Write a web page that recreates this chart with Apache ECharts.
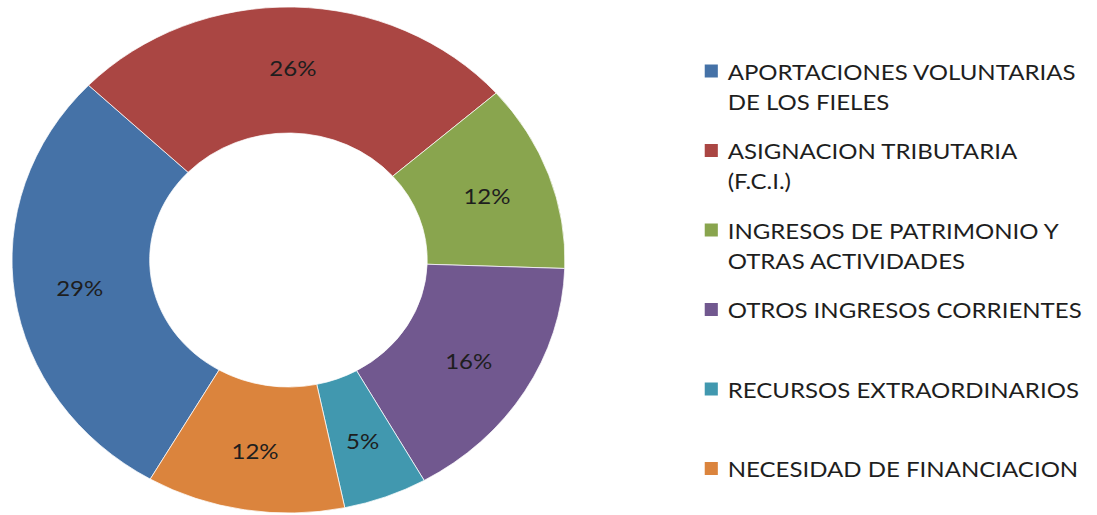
<!DOCTYPE html>
<html>
<head>
<meta charset="utf-8">
<script src="https://cdn.jsdelivr.net/npm/echarts@6/dist/echarts.min.js"></script>
<style>
html, body { margin: 0; padding: 0; background: #ffffff; overflow: hidden; }
#wrap { width: 1097px; height: 515px; overflow: hidden; position: relative; }
#chart { width: 1004px; height: 515px; transform: scaleX(1.0926); transform-origin: 0 0; }
</style>
</head>
<body>
<div id="wrap"><div id="chart"></div></div>
<script>
const categories = [
  'APORTACIONES VOLUNTARIAS\nDE LOS FIELES',
  'ASIGNACION TRIBUTARIA\n(F.C.I.)',
  'INGRESOS DE PATRIMONIO Y\nOTRAS ACTIVIDADES',
  'OTROS INGRESOS CORRIENTES',
  'RECURSOS EXTRAORDINARIOS',
  'NECESIDAD DE FINANCIACION'
];
const values = [28.8, 26.4, 12.0, 16.3, 4.9, 11.6];
const colors = ['#4572A7', '#AA4643', '#89A54E', '#71588F', '#4198AF', '#DB843D'];

const chart = echarts.init(document.getElementById('chart'), null, { renderer: 'svg' });
chart.setOption({
  animation: false,
  color: colors,
  legend: {
    orient: 'vertical',
    left: 643,
    top: 26,
    padding: 0,
    itemGap: -10.5,
    itemWidth: 14,
    itemHeight: 15,
    icon: 'rect',
    selectedMode: false,
    data: categories,
    formatter: function (name) {
      return ' \n' + name + (name.indexOf('\n') >= 0 ? '' : '\n ');
    },
    textStyle: {
      fontFamily: 'Lato',
      fontSize: 22,
      lineHeight: 30,
      color: '#1e1e1e',
      padding: [0, 0, 0, 3]
    }
  },
  series: [{
    type: 'pie',
    center: [264, 260],
    radius: [127, 253],
    startAngle: 240,
    clockwise: true,
    avoidLabelOverlap: false,
    silent: true,
    percentPrecision: 0,
    itemStyle: { borderColor: '#ffffff', borderWidth: 0.7 },
    label: {
      show: true,
      position: 'inside',
      formatter: '{d}%',
      fontFamily: 'Lato',
      fontSize: 22,
      color: '#1e1e1e'
    },
    labelLine: { show: false },
    data: categories.map((c, i) => ({ name: c, value: values[i] }))
  }]
});
</script>
</body>
</html>
